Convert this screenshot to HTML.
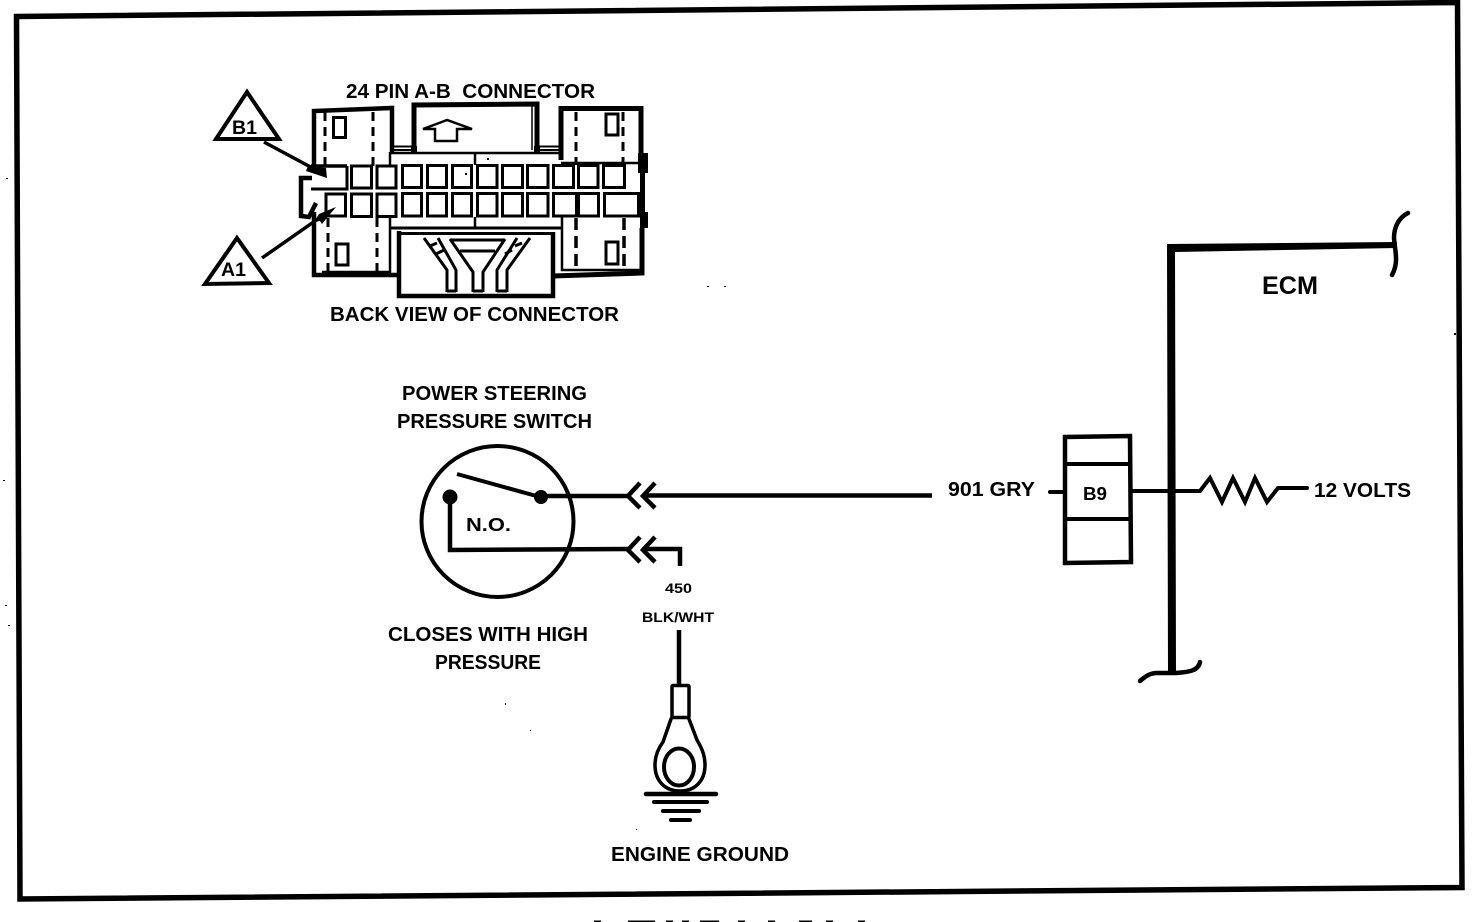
<!DOCTYPE html>
<html>
<head>
<meta charset="utf-8">
<style>
html,body{margin:0;padding:0;background:#fff;}
svg{display:block;}
text{font-family:"Liberation Sans",sans-serif;font-weight:bold;fill:#000;}
</style>
</head>
<body>
<svg width="1472" height="922" viewBox="0 0 1472 922" xmlns="http://www.w3.org/2000/svg">
<rect width="1472" height="922" fill="#fff"/>
<!-- frame -->
<path d="M16.5 16.5 L1457.5 2.5 L1462 887.5 L20 899 Z" fill="none" stroke="#000" stroke-width="5.5"/>
<!-- bottom fragment -->
<g fill="#000">
<rect x="594" y="920.5" width="7" height="1.5"/><rect x="628" y="920.5" width="27" height="1.5"/><rect x="666" y="920.5" width="7" height="1.5"/><rect x="682" y="920.5" width="7" height="1.5"/><rect x="700" y="920.5" width="19" height="1.5"/><rect x="738" y="920.5" width="7" height="1.5"/><rect x="768" y="920.5" width="7" height="1.5"/><rect x="799" y="920.5" width="13" height="1.5"/><rect x="826" y="920.5" width="7" height="1.5"/><rect x="858" y="920.5" width="7" height="1.5"/>
<!-- specks -->
<rect x="6" y="178" width="2" height="1"/><rect x="3" y="480" width="2" height="1"/><rect x="5" y="605" width="2" height="1"/><rect x="8" y="625" width="2" height="1"/><rect x="707" y="286" width="2" height="1"/><rect x="724" y="286" width="2" height="1"/><rect x="1454" y="333" width="2" height="2"/><rect x="505" y="703" width="1" height="2"/><rect x="530" y="730" width="1" height="1"/><rect x="636" y="829" width="1" height="1"/>
</g>

<!-- connector -->
<g fill="none" stroke="#000" stroke-linejoin="miter">
  <!-- triangles -->
  <path d="M247 92 L279 139 L216 139 Z" stroke-width="4"/>
  <path d="M237 238 L269 283 L205 284 Z" stroke-width="4"/>
  <!-- leader lines -->
  <path d="M264 142 L318 171" stroke-width="3.5"/>
  <path d="M262 258 L325 214" stroke-width="3.5"/>
  <!-- left top housing -->
  <path d="M314 166 V111 L392 108 V152" stroke-width="4.5"/>
  <path d="M325 112 V166 M373 112 V166" stroke-width="3" stroke-dasharray="9 6"/>
  <rect x="333.5" y="117.5" width="12" height="20" stroke-width="3"/>
  <!-- center top block -->
  <path d="M414 150 V105 L537 104 V150" stroke-width="5"/>
  <path d="M532 106 V150" stroke-width="1.5"/>
  <path d="M390 146.5 H413 M390 150 H413 M538 146.5 H560 M538 150 H560" stroke-width="2"/>
  <path d="M447 120 L423 129 L435 129 L435 141 L457 141 L457 129 L472 129 Z" stroke-width="2.5"/>
  <!-- body -->
  <path d="M390 153 H560" stroke-width="2.5"/>
  <path d="M390 152 V165" stroke-width="2.5"/>
  <path d="M475 153 V165 M475 217 V228" stroke-width="2.5"/>
  <path d="M390 228 H561" stroke-width="3"/>
  <!-- right top housing -->
  <path d="M561 160 V108.5 L641 108.5 V154" stroke-width="5"/>
  <path d="M576 112 V165 M623 112 V165" stroke-width="3" stroke-dasharray="9 6"/>
  <rect x="606" y="114" width="12" height="21" stroke-width="3"/>
  <path d="M561 163 H640" stroke-width="2.5"/>
  <!-- pins top row -->
  <g stroke-width="3">
    <path d="M347 166 V189 H311"/>
    <path d="M311 166 H347" stroke-width="3.5"/>
    <rect x="351.5" y="166" width="20" height="22"/>
    <rect x="377" y="166" width="19" height="22"/>
    <rect x="402.5" y="165.5" width="19" height="22"/>
    <rect x="427.5" y="165.5" width="19" height="22"/>
    <rect x="452.5" y="165.5" width="19" height="22"/>
    <rect x="477.5" y="165.5" width="19.5" height="22"/>
    <rect x="502.5" y="165.5" width="20" height="22"/>
    <rect x="527.5" y="165.5" width="20.5" height="22"/>
    <rect x="553.5" y="165.5" width="20" height="22"/>
    <rect x="578.5" y="165.5" width="19.5" height="22"/>
    <rect x="603.5" y="165.5" width="21" height="22"/>
    <!-- bottom row -->
    <rect x="326" y="194" width="19.5" height="22"/>
    <rect x="351.5" y="194" width="20" height="22.5"/>
    <rect x="377" y="194" width="19" height="22.5"/>
    <rect x="402.5" y="193.5" width="19" height="22.5"/>
    <rect x="427.5" y="193.5" width="19" height="22.5"/>
    <rect x="452.5" y="193.5" width="19" height="22.5"/>
    <rect x="477.5" y="193.5" width="19.5" height="22.5"/>
    <rect x="502.5" y="193.5" width="20" height="22.5"/>
    <rect x="527.5" y="193.5" width="20.5" height="22.5"/>
    <rect x="553.5" y="193.5" width="23" height="22.5"/>
    <rect x="578.5" y="193.5" width="20" height="22.5"/>
    <rect x="604.5" y="193.5" width="34" height="22.5"/>
  </g>
  <!-- notch -->
  <path d="M312 178 H301 V216 L309 217 L316 203" stroke-width="4.5"/>
  <!-- bottom left housing -->
  <path d="M314 212 V275 H398" stroke-width="4.5"/>
  <path d="M390 217 V272 H322" stroke-width="2.5"/>
  <path d="M328 218 V272 M377 218 V272" stroke-width="3" stroke-dasharray="9 6"/>
  <rect x="336" y="244" width="12" height="21" stroke-width="3"/>
  <!-- bottom right housing -->
  <path d="M553 276 L642 273 V228" stroke-width="5"/>
  <path d="M562 217 V270 H640" stroke-width="2.5"/>
  <path d="M576 218 V272 M624 218 V272" stroke-width="3.5" stroke-dasharray="12 6"/>
  <rect x="606" y="242" width="12" height="22" stroke-width="3"/>
  <!-- bottom center -->
  <path d="M399 231 V296 H553 V232" stroke-width="4.5"/>
  <path d="M398 233.5 H553" stroke-width="3"/>
  <g stroke-width="3">
    <path d="M424 238 L447 270 V292"/>
    <path d="M438 238 L456 270 V292"/>
    <path d="M450 239 L473 272 V292"/>
    <path d="M505 239 L483 272 V292"/>
    <path d="M530 238 L507 270 V292"/>
    <path d="M517 238 L497 270 V292"/>
    <path d="M450 240 H505 M460 251 H495"/>
    <path d="M430 246 L437 243 M436 254 L444 250 M522 243 L515 246 M512 250 L505 254"/>
    <path d="M447 291 H456 M473 291 H483 M497 291 H507"/>
  </g>
</g>
<g fill="#000">
  <path d="M638 153 H648 V173 H645 V212 H648 V228 H640 V173 H638 Z"/>
  <path d="M308 166 L326 168 L327 178 L306 171 Z"/>
  <path d="M336 207 L319 214 L314 222 L320 221 L322 224 L326 219 Z"/>
  <rect x="411" y="146" width="6" height="6"/><rect x="534" y="146" width="6" height="6"/>
  <rect x="465" y="173" width="2" height="2"/><rect x="487" y="158" width="2" height="2"/>
</g>
<text x="346" y="98" font-size="20" textLength="249" lengthAdjust="spacingAndGlyphs" xml:space="preserve">24 PIN A-B  CONNECTOR</text>
<text x="330" y="321" font-size="20" textLength="289" lengthAdjust="spacingAndGlyphs">BACK VIEW OF CONNECTOR</text>
<text x="232" y="134" font-size="19" textLength="25" lengthAdjust="spacingAndGlyphs">B1</text>
<text x="221" y="276" font-size="19" textLength="25" lengthAdjust="spacingAndGlyphs">A1</text>

<!-- switch -->
<text x="402" y="400" font-size="20" textLength="185" lengthAdjust="spacingAndGlyphs">POWER STEERING</text>
<text x="397" y="428" font-size="20" textLength="195" lengthAdjust="spacingAndGlyphs">PRESSURE SWITCH</text>
<g fill="none" stroke="#000">
  <ellipse cx="497.5" cy="521.5" rx="76" ry="75.5" stroke-width="4"/>
  <path d="M457 474 L540 497" stroke-width="4"/>
  <path d="M540 496 H628 M643 495.5 H932" stroke-width="4.5"/>
  <path d="M640 483 L628 496 L640 508 M655 483 L643 496 L655 508" stroke-width="4.5"/>
  <path d="M450 497 V550 L628 549" stroke-width="4.5"/>
  <path d="M640 537 L628 550 L640 562 M655 537 L643 550 L655 562" stroke-width="4.5"/>
  <path d="M643 549 H680 V566" stroke-width="4.5"/>
  <path d="M679 630 V684" stroke-width="4.5"/>
</g>
<circle cx="541" cy="497" r="7" fill="#000"/>
<circle cx="450" cy="497" r="7.5" fill="#000"/>
<text x="466" y="531" font-size="18" textLength="45" lengthAdjust="spacingAndGlyphs">N.O.</text>
<text x="665" y="593" font-size="14" textLength="27" lengthAdjust="spacingAndGlyphs">450</text>
<text x="642" y="622" font-size="14" textLength="72" lengthAdjust="spacingAndGlyphs">BLK/WHT</text>
<text x="388" y="641" font-size="20" textLength="200" lengthAdjust="spacingAndGlyphs">CLOSES WITH HIGH</text>
<text x="435" y="669" font-size="20" textLength="106" lengthAdjust="spacingAndGlyphs">PRESSURE</text>

<!-- ground -->
<g fill="none" stroke="#000" stroke-linecap="round">
  <rect x="672" y="685.5" width="17" height="32" stroke-width="3.5" rx="1"/>
  <path d="M671 719 L663 742 C657 750 655 757 655 765 C655 781 665 791 680 791 C695 791 705 781 705 765 C705 757 703 750 697 740 L689 719" stroke-width="3.5"/>
  <ellipse cx="679" cy="767" rx="15" ry="18.5" stroke-width="4"/>
  <path d="M646 794 H716" stroke-width="4.5"/>
  <path d="M654 802 H707" stroke-width="4"/>
  <path d="M663 811 H699" stroke-width="4"/>
  <path d="M671 820 H690" stroke-width="4"/>
</g>
<text x="611" y="861" font-size="20" textLength="178" lengthAdjust="spacingAndGlyphs">ENGINE GROUND</text>

<!-- ECM -->
<path d="M1167 244 L1397 242 L1397 248 L1175 252 L1176 673 L1168 673 Z" fill="#000"/>
<g fill="none" stroke="#000" stroke-linecap="round">
  <path d="M1408 213 C1398 218 1394 228 1394 238 C1395 252 1399 262 1392 275" stroke-width="4.5"/>
  <path d="M1140 681 C1146 676 1150 673 1157 673 L1176 673 C1186 672 1198 672 1200 662" stroke-width="4.5"/>
  <path d="M1065 437 L1130 436 L1131 562 L1065 563 Z" stroke-width="4.5"/>
  <path d="M1065 464 H1130 M1066 519 H1130" stroke-width="4"/>
  <path d="M1050 492 H1064" stroke-width="4"/>
  <path d="M1133 491 H1200 L1210 478 L1222 502 L1233 478 L1245 502 L1255 478 L1267 502 L1278 488 H1307" stroke-width="4" stroke-linejoin="miter"/>
</g>
<text x="1262" y="294" font-size="25" textLength="56" lengthAdjust="spacingAndGlyphs">ECM</text>
<text x="948" y="496" font-size="20" textLength="87" lengthAdjust="spacingAndGlyphs">901 GRY</text>
<text x="1083" y="500" font-size="18" textLength="24" lengthAdjust="spacingAndGlyphs">B9</text>
<text x="1314" y="497" font-size="20" textLength="97" lengthAdjust="spacingAndGlyphs">12 VOLTS</text>
</svg>
</body>
</html>
